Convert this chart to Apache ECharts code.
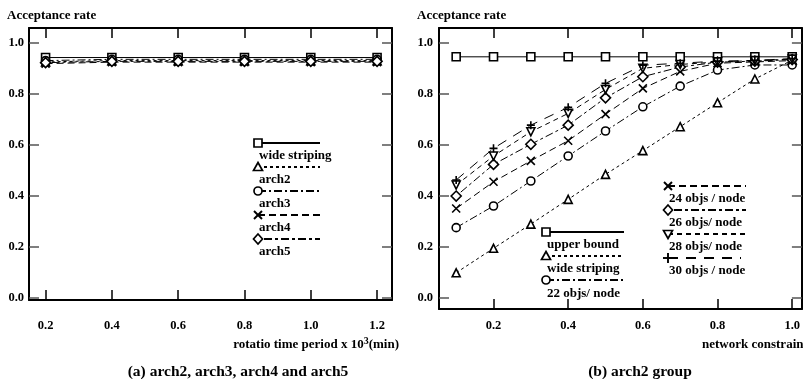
<!DOCTYPE html>
<html>
<head>
<meta charset="utf-8">
<script src="https://cdn.jsdelivr.net/npm/echarts@6/dist/echarts.min.js"></script>
<style>
html,body{margin:0;padding:0;background:#fff;}
#chart{width:803px;height:379px;}
</style>
</head>
<body>
<div id="chart"></div>
<script>
// ---------- data ----------
const leftX = [0.2, 0.4, 0.6, 0.8, 1.0, 1.2];
const leftWide  = [0.942, 0.942, 0.942, 0.942, 0.942, 0.942];
const leftArch2 = [0.925, 0.930, 0.930, 0.930, 0.930, 0.930];
const leftArch3 = [0.930, 0.935, 0.935, 0.935, 0.935, 0.935];
const leftArch4 = [0.918, 0.924, 0.924, 0.924, 0.924, 0.924];
const leftArch5 = [0.922, 0.927, 0.927, 0.927, 0.927, 0.927];

const rightX = [0.1, 0.2, 0.3, 0.4, 0.5, 0.6, 0.7, 0.8, 0.9, 1.0];
const upperBound = [0.945, 0.945, 0.945, 0.945, 0.945, 0.945, 0.945, 0.945, 0.945, 0.945];
const wideStriping = [0.098, 0.194, 0.289, 0.386, 0.484, 0.577, 0.671, 0.765, 0.858, 0.932];
const objs22 = [0.275, 0.360, 0.458, 0.556, 0.654, 0.749, 0.830, 0.893, 0.913, 0.913];
const objs24 = [0.350, 0.455, 0.537, 0.616, 0.720, 0.821, 0.888, 0.920, 0.925, 0.930];
const objs26 = [0.399, 0.523, 0.602, 0.677, 0.784, 0.867, 0.905, 0.924, 0.928, 0.934];
const objs28 = [0.442, 0.556, 0.651, 0.723, 0.817, 0.900, 0.915, 0.925, 0.930, 0.936];
const objs30 = [0.462, 0.586, 0.677, 0.747, 0.841, 0.912, 0.920, 0.928, 0.931, 0.938];

const yTicks = [0.0, 0.2, 0.4, 0.6, 0.8, 1.0];
const leftXTicks = [0.2, 0.4, 0.6, 0.8, 1.0, 1.2];
const rightXTicks = [0.2, 0.4, 0.6, 0.8, 1.0];

const leftNames = ['wide striping', 'arch2', 'arch3', 'arch4', 'arch5'];
const rightNames = ['upper bound', 'wide striping', '22 objs/ node', '24 objs / node', '26 objs/ node', '28 objs/ node', '30 objs / node'];

// ---------- styles ----------
const FONT = 'Liberation Serif';
const SYM = {
  square: 'rect',
  triangle: 'triangle',
  circle: 'circle',
  cross: 'path://M0,0L10,10M0,10L10,0',
  diamond: 'diamond',
  tridown: 'triangle',
  plus: 'path://M5,0L5,10M0,5L10,5'
};
const DASH = {
  solid: 'solid',
  dotted: [3, 3],
  dashdot: [8, 3, 2, 3],
  dash: [7, 4],
  dotdash: [3, 3, 8, 3],
  shortdash: [5, 4],
  longdash: [10, 8]
};

function pairs(xs, ys) { return xs.map((x, i) => [x, ys[i]]); }

function mkSeries(name, xs, ys, sym, dash, axis) {
  return {
    name: name,
    type: 'line',
    xAxisIndex: axis, yAxisIndex: axis,
    data: pairs(xs, ys),
    symbol: SYM[sym],
    symbolSize: (sym === 'cross' || sym === 'plus') ? 8 : (sym === 'diamond' ? 10 : 8),
    symbolRotate: sym === 'tridown' ? 180 : 0,
    symbolKeepAspect: true,
    showAllSymbol: true,
    lineStyle: { color: '#000', width: 1, type: DASH[dash] },
    itemStyle: { color: '#fff', borderColor: '#000', borderWidth: 1.6 },
    emphasis: { disabled: true },
    animation: false,
    z: 3
  };
}

function xAxes(grid, min, max, ticks, margin, top) {
  return {
    type: 'value', gridIndex: grid, min: min, max: max,
    position: top ? 'top' : 'bottom',
    axisLine: { show: true, onZero: false, lineStyle: { color: '#000', width: 2 } },
    axisTick: { show: true, inside: true, length: 10, customValues: ticks.slice(), lineStyle: { color: '#000', width: 1.5 } },
    axisLabel: {
      show: !top, customValues: ticks.slice(), margin: margin,
      formatter: v => v.toFixed(1),
      color: '#000', fontFamily: FONT, fontWeight: 'bold', fontSize: 12.5
    },
    splitLine: { show: false }
  };
}
function yAxes(grid, min, max, right, margin) {
  return {
    type: 'value', gridIndex: grid, min: min, max: max,
    position: right ? 'right' : 'left',
    axisLine: { show: true, onZero: false, lineStyle: { color: '#000', width: 2 } },
    axisTick: { show: true, inside: true, length: 10, customValues: yTicks.slice(), lineStyle: { color: '#555', width: 1.5 } },
    axisLabel: {
      show: !right, customValues: yTicks.slice(), margin: margin,
      formatter: v => v.toFixed(1),
      color: '#000', fontFamily: FONT, fontWeight: 'bold', fontSize: 12.5
    },
    splitLine: { show: false }
  };
}

// ---------- legend graphics ----------
function markerG(type, cx, cy) {
  const st = { fill: '#fff', stroke: '#000', lineWidth: 1.7 };
  const ls = { stroke: '#000', lineWidth: 1.9 };
  switch (type) {
    case 'square': return [{ type: 'rect', shape: { x: cx - 4, y: cy - 4, width: 8, height: 8 }, style: st, z: 10 }];
    case 'circle': return [{ type: 'circle', shape: { cx: cx, cy: cy, r: 4 }, style: st, z: 10 }];
    case 'triangle': return [{ type: 'polygon', shape: { points: [[cx, cy - 4.5], [cx + 4.5, cy + 3.5], [cx - 4.5, cy + 3.5]] }, style: st, z: 10 }];
    case 'tridown': return [{ type: 'polygon', shape: { points: [[cx, cy + 4.5], [cx + 4.5, cy - 3.5], [cx - 4.5, cy - 3.5]] }, style: st, z: 10 }];
    case 'diamond': return [{ type: 'polygon', shape: { points: [[cx, cy - 5], [cx + 4.5, cy], [cx, cy + 5], [cx - 4.5, cy]] }, style: st, z: 10 }];
    case 'cross': return [
      { type: 'line', shape: { x1: cx - 4, y1: cy - 4, x2: cx + 4, y2: cy + 4 }, style: ls, z: 10 },
      { type: 'line', shape: { x1: cx - 4, y1: cy + 4, x2: cx + 4, y2: cy - 4 }, style: ls, z: 10 }];
    case 'plus': return [
      { type: 'line', shape: { x1: cx, y1: cy - 5, x2: cx, y2: cy + 5 }, style: ls, z: 10 },
      { type: 'line', shape: { x1: cx - 5, y1: cy, x2: cx + 5, y2: cy }, style: ls, z: 10 }];
  }
  return [];
}
function legendItem(name, sym, dash, x, y, x2, ty) {
  const d = DASH[dash];
  const out = [{
    type: 'line', shape: { x1: x, y1: y, x2: x2, y2: y },
    style: { stroke: '#000', lineWidth: 2, lineDash: d === 'solid' ? null : d }, z: 9
  }];
  markerG(sym, x, y).forEach(e => out.push(e));
  out.push({
    type: 'text', x: x + 1, y: ty,
    style: { text: name, fill: '#000', font: 'bold 13px "' + FONT + '"', textVerticalAlign: 'middle', textAlign: 'left' }, z: 10
  });
  return out;
}
function txt(t, x, y, size, align) {
  return { type: 'text', x: x, y: y, style: { text: t, fill: '#000', font: 'bold ' + size + 'px "' + FONT + '"', textAlign: align, textVerticalAlign: 'middle' }, z: 10 };
}

const graphics = [];
const leftSyms = ['square', 'triangle', 'circle', 'cross', 'diamond'];
const leftDash = ['solid', 'dotted', 'dashdot', 'dash', 'dotdash'];
leftNames.forEach((n, i) => {
  legendItem(n, leftSyms[i], leftDash[i], 258, 143 + i * 24, 320, 156 + i * 24).forEach(e => graphics.push(e));
});
const rightSyms = ['square', 'triangle', 'circle', 'cross', 'diamond', 'tridown', 'plus'];
const rightDash = ['solid', 'dotted', 'dashdot', 'dash', 'dotdash', 'shortdash', 'longdash'];
for (let i = 0; i < 3; i++) {
  legendItem(rightNames[i], rightSyms[i], rightDash[i], 546, 232 + i * 24, 624, 244.5 + i * 24.5).forEach(e => graphics.push(e));
}
for (let i = 3; i < 7; i++) {
  const k = i - 3;
  legendItem(rightNames[i], rightSyms[i], rightDash[i], 668, 186 + k * 24, i === 6 ? 741 : 746, 199 + k * 23.8).forEach(e => graphics.push(e));
}
graphics.push(txt('Acceptance rate', 7, 16, 13, 'left'));
graphics.push(txt('Acceptance rate', 417, 16, 13, 'left'));
graphics.push({
  type: 'text', x: 399, y: 345,
  style: {
    text: 'rotatio time period x 10{s|3}(min)', fill: '#000', font: 'bold 13px "' + FONT + '"',
    textAlign: 'right', textVerticalAlign: 'middle',
    rich: { s: { fontSize: 10, fontWeight: 'bold', fontFamily: FONT, verticalAlign: 'bottom', padding: [0, 0, 8, 0] } }
  }, z: 10
});
graphics.push(txt('network constraint', 702, 345, 13, 'left'));
graphics.push(txt('(a) arch2, arch3, arch4 and arch5', 238, 372, 15.5, 'center'));
graphics.push(txt('(b) arch2 group', 640, 372, 15.5, 'center'));

// ---------- option ----------
const option = {
  animation: false,
  grid: [
    { left: 29, right: 411, top: 28, bottom: 79 },
    { left: 439, right: 1, top: 28, bottom: 70 }
  ],
  xAxis: [
    xAxes(0, 0.15, 1.245, leftXTicks, 19, false),
    xAxes(0, 0.15, 1.245, leftXTicks, 0, true),
    xAxes(1, 0.054, 1.026, rightXTicks, 10, false),
    xAxes(1, 0.054, 1.026, rightXTicks, 0, true)
  ],
  yAxis: [
    yAxes(0, -0.01, 1.058, false, 5),
    yAxes(0, -0.01, 1.058, true, 0),
    yAxes(1, -0.044, 1.058, false, 6),
    yAxes(1, -0.044, 1.058, true, 0)
  ],
  series: [
    mkSeries('wide striping', leftX, leftWide, 'square', 'solid', 0),
    mkSeries('arch2', leftX, leftArch2, 'triangle', 'dotted', 0),
    mkSeries('arch3', leftX, leftArch3, 'circle', 'dashdot', 0),
    mkSeries('arch4', leftX, leftArch4, 'cross', 'dash', 0),
    mkSeries('arch5', leftX, leftArch5, 'diamond', 'dotdash', 0),
    mkSeries('upper bound', rightX, upperBound, 'square', 'solid', 2),
    mkSeries('wide striping', rightX, wideStriping, 'triangle', 'dotted', 2),
    mkSeries('22 objs/ node', rightX, objs22, 'circle', 'dashdot', 2),
    mkSeries('24 objs / node', rightX, objs24, 'cross', 'dash', 2),
    mkSeries('26 objs/ node', rightX, objs26, 'diamond', 'dotdash', 2),
    mkSeries('28 objs/ node', rightX, objs28, 'tridown', 'shortdash', 2),
    mkSeries('30 objs / node', rightX, objs30, 'plus', 'longdash', 2)
  ],
  graphic: graphics
};

const chart = echarts.init(document.getElementById('chart'), null, { renderer: 'canvas' });
chart.setOption(option);
</script>
</body>
</html>
